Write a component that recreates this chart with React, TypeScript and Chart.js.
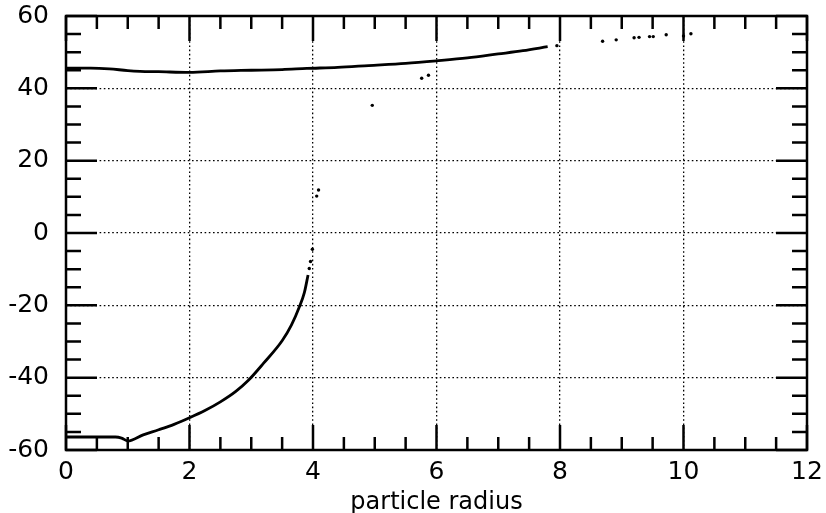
import React, { useEffect, useRef } from "react";
import { Chart, registerables } from "chart.js";

Chart.register(...registerables);

// Axis setup
const xMin = 0;
const xMax = 12;
const xMajorStep = 2;
const xMinorStep = 0.5;
const yMin = -60;
const yMax = 60;
const yMajorStep = 20;
const yMinorStep = 5;
const xTitle = "particle radius";

// Upper branch (continuous curve)
const upperX = [0, 0.4, 0.7, 1.0, 1.2, 1.5, 2.0, 2.5, 3.0, 3.5, 3.9, 4.4, 4.9, 5.5, 6.0, 6.5, 7.0, 7.4, 7.8];
const upperY = [45.6, 45.6, 45.4, 44.9, 44.7, 44.6, 44.4, 44.8, 45.0, 45.2, 45.5, 45.8, 46.3, 46.9, 47.6, 48.4, 49.5, 50.4, 51.5];

// Upper branch (isolated points)
const upperDotX = [4.96, 5.76, 5.87, 7.95, 8.69, 8.91, 9.2, 9.28, 9.45, 9.51, 9.72, 10.0, 10.12];
const upperDotY = [35.3, 42.8, 43.6, 51.8, 53.0, 53.4, 54.0, 54.1, 54.3, 54.3, 54.8, 54.5, 55.1];

// Lower branch (continuous curve)
const lowerX = [0, 0.4, 0.8, 0.9, 1.0, 1.25, 1.5, 1.75, 2.0, 2.25, 2.5, 2.75, 2.95, 3.2, 3.5, 3.65, 3.78, 3.86, 3.92];
const lowerY = [-56.4, -56.4, -56.4, -56.7, -57.5, -55.8, -54.4, -52.9, -51.1, -49.1, -46.7, -43.8, -40.8, -36.0, -29.8, -25.5, -20.4, -16.5, -11.6];

// Lower branch (isolated points)
const lowerDotX = [3.94, 3.96, 3.99, 4.06, 4.09];
const lowerDotY = [-9.8, -7.9, -4.5, 10.2, 11.9];

const toPts = (xs: number[], ys: number[]) => xs.map((x, i) => ({ x, y: ys[i] }));

const framePlugin = {
  id: "frameTicks",
  afterDraw(chart: any) {
    const { ctx, chartArea: a, scales } = chart;
    const xs = scales.x;
    const ys = scales.y;
    ctx.save();
    ctx.strokeStyle = "#000";
    ctx.lineWidth = 2.5;
    ctx.lineCap = "butt";
    ctx.beginPath();
    const nx = Math.round((xMax - xMin) / xMinorStep);
    for (let i = 0; i <= nx; i++) {
      const v = xMin + i * xMinorStep;
      const px = xs.getPixelForValue(v);
      const major = Math.abs(v / xMajorStep - Math.round(v / xMajorStep)) < 1e-6;
      const len = major ? 25 : 13;
      ctx.moveTo(px, a.bottom);
      ctx.lineTo(px, a.bottom - len);
      ctx.moveTo(px, a.top);
      ctx.lineTo(px, a.top + len);
    }
    const ny = Math.round((yMax - yMin) / yMinorStep);
    for (let i = 0; i <= ny; i++) {
      const v = yMin + i * yMinorStep;
      const py = ys.getPixelForValue(v);
      const major = Math.abs(v / yMajorStep - Math.round(v / yMajorStep)) < 1e-6;
      const len = major ? 31 : 15;
      ctx.moveTo(a.left, py);
      ctx.lineTo(a.left + len, py);
      ctx.moveTo(a.right, py);
      ctx.lineTo(a.right - len, py);
    }
    ctx.stroke();
    ctx.strokeRect(a.left, a.top, a.right - a.left, a.bottom - a.top);
    ctx.restore();
  },
};

export default function App() {
  const ref = useRef<HTMLCanvasElement>(null);
  useEffect(() => {
    if (!ref.current) return;
    const lineStyle = {
      showLine: true,
      borderColor: "#000",
      borderWidth: 2.8,
      pointRadius: 0,
      cubicInterpolationMode: "monotone",
      fill: false,
    };
    const dotStyle = {
      showLine: false,
      pointRadius: 1.7,
      pointBackgroundColor: "#000",
      pointBorderWidth: 0,
      backgroundColor: "#000",
    };
    const chart = new Chart(ref.current, {
      type: "scatter",
      data: {
        datasets: [
          { label: "upper", data: toPts(upperX, upperY), ...lineStyle },
          { label: "upper points", data: toPts(upperDotX, upperDotY), ...dotStyle },
          { label: "lower", data: toPts(lowerX, lowerY), ...lineStyle },
          { label: "lower points", data: toPts(lowerDotX, lowerDotY), ...dotStyle },
        ],
      },
      options: {
        animation: false,
        responsive: true,
        maintainAspectRatio: false,
        layout: { padding: { top: 16, right: 19, left: 0, bottom: 0 } },
        plugins: {
          legend: { display: false },
          tooltip: { enabled: false },
        },
        scales: {
          x: {
            type: "linear",
            min: xMin,
            max: xMax,
            afterFit: (s: any) => {
              s.height = 63;
              s.paddingLeft = 0;
              s.paddingRight = 0;
            },
            ticks: {
              stepSize: xMajorStep,
              color: "#000",
              font: { family: "DejaVu Sans", size: 25 },
              padding: 7,
              maxRotation: 0,
            },
            grid: {
              color: "#000",
              lineWidth: 1.3,
              drawTicks: false,
            },
            border: { display: false, dash: [1.6, 2.6] },
            title: {
              display: true,
              text: xTitle,
              color: "#000",
              font: { family: "DejaVu Sans", size: 24 },
              padding: { top: 0, bottom: -4 },
            },
          },
          y: {
            type: "linear",
            min: yMin,
            max: yMax,
            afterFit: (s: any) => {
              s.width = 66;
              s.paddingTop = 0;
              s.paddingBottom = 0;
            },
            ticks: {
              stepSize: yMajorStep,
              color: "#000",
              font: { family: "DejaVu Sans", size: 25 },
              padding: 17,
            },
            grid: {
              color: "#000",
              lineWidth: 1.3,
              drawTicks: false,
            },
            border: { display: false, dash: [1.6, 2.6] },
          },
        },
      },
      plugins: [framePlugin],
    });
    return () => chart.destroy();
  }, []);
  return (
    <div style={{ position: "absolute", left: 0, top: 0, width: 826, height: 513 }}>
      <canvas ref={ref} />
    </div>
  );
}
